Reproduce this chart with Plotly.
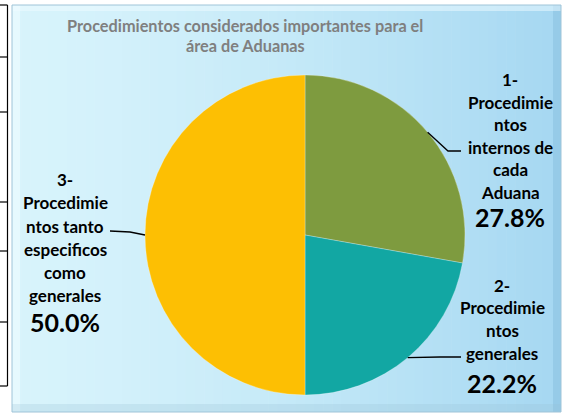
import math
import plotly.graph_objects as go

# ---- data ----
categories = [
    "1-<br>Procedimie<br>ntos<br>internos de<br>cada<br>Aduana",
    "2-<br>Procedimie<br>ntos<br>generales",
    "3-<br>Procedimie<br>ntos tanto<br>especificos<br>como<br>generales",
]
values = [27.8, 22.2, 50.0]
colors = ["#7e9b3f", "#12a7a3", "#fdbf03"]
title_lines = ["Procedimientos considerados importantes para el", "área de Aduanas"]

W, H = 562, 414
FONT = "Lato, 'Open Sans', 'Liberation Sans', sans-serif"

def px(x):
    return x / W

def py(y):
    return 1 - y / H

# pie geometry (layout)
cx, cy, R = 305, 235, 160

fig = go.Figure()
fig.add_trace(go.Pie(
    labels=[c.replace("<br>", " ") for c in categories],
    values=values,
    sort=False,
    direction="clockwise",
    rotation=0,
    marker=dict(colors=colors, line=dict(color="rgba(255,255,255,0.35)", width=0.8)),
    textinfo="none",
    hoverinfo="label+percent",
    showlegend=False,
    domain=dict(x=[px(cx - R), px(cx + R)], y=[py(cy + R), py(cy - R)]),
))

shapes = []
# document table lines at far left
for yy in [5, 57, 112, 202, 251, 322, 386]:
    shapes.append(dict(type="line", xref="paper", yref="paper", x0=px(0), x1=px(7.5),
                       y0=py(yy), y1=py(yy), line=dict(color="black", width=1.2)))
shapes.append(dict(type="line", xref="paper", yref="paper", x0=px(7.5), x1=px(7.5),
                   y0=py(5), y1=py(386), line=dict(color="black", width=1.2)))

# background panel with a horizontal gradient
x0p, x1p, y0p, y1p = 12, 561, 5, 412
left = (0xd8, 0xf4, 0xfc)
right = (0xa6, 0xd8, 0xf2)
N = 60
for i in range(N):
    t = i / (N - 1)
    c = tuple(int(left[k] + (right[k] - left[k]) * (t ** 1.4)) for k in range(3))
    xa = x0p + (x1p - x0p) * i / N
    xb = x0p + (x1p - x0p) * (i + 1) / N + 0.6
    shapes.append(dict(type="rect", xref="paper", yref="paper", layer="below",
                       x0=px(xa), x1=px(min(xb, x1p)), y0=py(y1p), y1=py(y0p),
                       fillcolor="rgb(%d,%d,%d)" % c, line=dict(width=0)))
# bevel edges
shapes.append(dict(type="rect", xref="paper", yref="paper", layer="below",
                   x0=px(x0p), x1=px(x0p + 8), y0=py(y1p), y1=py(y0p),
                   fillcolor="rgba(240,252,255,0.6)", line=dict(width=0)))
shapes.append(dict(type="rect", xref="paper", yref="paper", layer="below",
                   x0=px(x1p - 8), x1=px(x1p), y0=py(y1p), y1=py(y0p),
                   fillcolor="rgba(120,180,215,0.35)", line=dict(width=0)))
shapes.append(dict(type="rect", xref="paper", yref="paper", layer="below",
                   x0=px(x0p), x1=px(x1p), y0=py(y1p), y1=py(y1p - 8),
                   fillcolor="rgba(150,190,210,0.25)", line=dict(width=0)))
shapes.append(dict(type="rect", xref="paper", yref="paper", layer="below",
                   x0=px(x0p), x1=px(x1p), y0=py(y0p + 6), y1=py(y0p),
                   fillcolor="rgba(240,252,255,0.5)", line=dict(width=0)))
shapes.append(dict(type="rect", xref="paper", yref="paper", layer="below",
                   x0=px(x0p), x1=px(x1p), y0=py(y1p), y1=py(y0p),
                   fillcolor="rgba(0,0,0,0)", line=dict(color="#9fc4d8", width=1)))

# label layout: text center x, first line center y, line step, percent center y, leader
label_pos = [
    dict(x=510, y=80, step=22.4, pct_y=217, elbow=(448, 151), end=(461, 151)),
    dict(x=502, y=285, step=22.7, pct_y=383, elbow=(440, 357), end=(461, 357)),
    dict(x=65, y=180, step=23.0, pct_y=322, elbow=(130, 232), end=(110, 231)),
]

total = sum(values)
annotations = []
cum = 0
for cat, v, lp in zip(categories, values, label_pos):
    mid = (cum + v / 2) / total * 2 * math.pi
    cum += v
    ex = cx + R * math.sin(mid)
    ey = cy - R * math.cos(mid)
    path = "M %f,%f L %f,%f L %f,%f" % (px(ex), py(ey), px(lp["elbow"][0]), py(lp["elbow"][1]),
                                        px(lp["end"][0]), py(lp["end"][1]))
    shapes.append(dict(type="path", xref="paper", yref="paper", path=path,
                       line=dict(color="black", width=1.3)))
    for i, line in enumerate(cat.split("<br>")):
        annotations.append(dict(
            xref="paper", yref="paper", x=px(lp["x"]), y=py(lp["y"] + i * lp["step"]),
            xanchor="center", yanchor="middle", showarrow=False,
            text="<b>%s</b>" % line,
            font=dict(family=FONT, size=17, color="black"),
        ))
    pct = "%.1f%%" % (v / total * 100)
    annotations.append(dict(
        xref="paper", yref="paper", x=px(lp["x"]), y=py(lp["pct_y"]),
        xanchor="center", yanchor="middle", showarrow=False,
        text="<b>%s</b>" % pct,
        font=dict(family=FONT, size=25, color="black"),
    ))

for i, tl in enumerate(title_lines):
    annotations.append(dict(
        xref="paper", yref="paper", x=px(245), y=py(25 + i * 20.5), xanchor="center",
        yanchor="middle", showarrow=False, text="<b>%s</b>" % tl,
        font=dict(family=FONT, size=16.3, color="#7f7f7f"),
    ))

fig.update_layout(
    width=W, height=H,
    margin=dict(l=0, r=0, t=0, b=0),
    paper_bgcolor="white",
    plot_bgcolor="white",
    shapes=shapes,
    annotations=annotations,
    showlegend=False,
)

fig.write_html("out.html", config={"displayModeBar": False},
               post_script="document.body.style.margin='0';document.body.style.padding='0';")
